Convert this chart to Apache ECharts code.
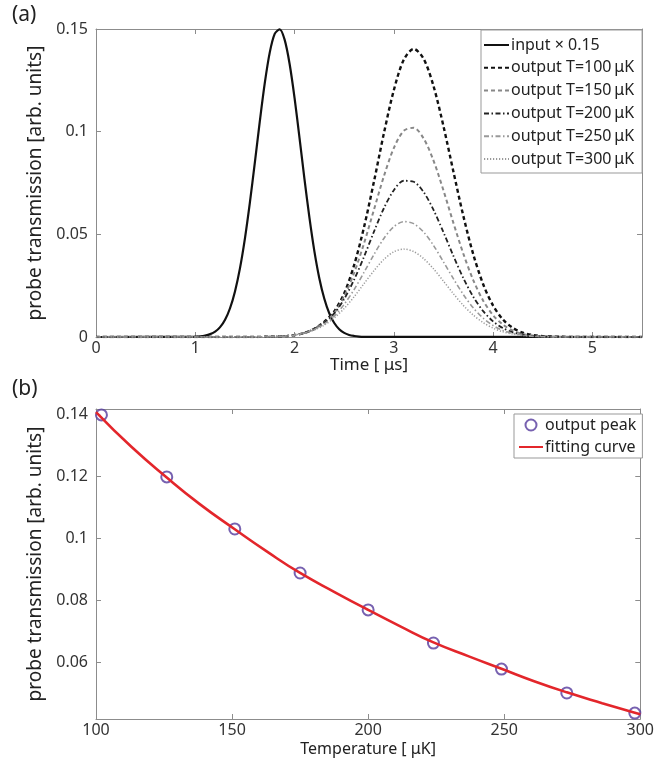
<!DOCTYPE html>
<html>
<head>
<meta charset="utf-8">
<script src="https://cdn.jsdelivr.net/npm/echarts@6/dist/echarts.min.js"></script>
<style>
  html, body { margin: 0; padding: 0; background: #fff; }
  #chart { width: 657px; height: 763px; }
</style>
</head>
<body>
<div id="chart"></div>
<script>
// (a) input pulse
const inputTime = [0, 1.00, 1.05, 1.10, 1.15, 1.20, 1.25, 1.30, 1.35, 1.40, 1.45, 1.50, 1.55, 1.60, 1.65,
  1.70, 1.75, 1.80, 1.85, 1.90, 1.95, 2.00, 2.05, 2.10, 2.15, 2.20, 2.25, 2.30, 2.35, 2.40, 2.45, 2.50,
  2.55, 2.60, 2.65, 2.70, 5.5];
const inputVal = [0, 0.0001, 0.0003, 0.0007, 0.0014, 0.0026, 0.0048, 0.0084, 0.0140, 0.0222, 0.0334, 0.0479,
  0.0654, 0.0849, 0.1050, 0.1236, 0.1385, 0.1476, 0.1498, 0.1448, 0.1331, 0.1165, 0.0970, 0.0769, 0.0581,
  0.0417, 0.0285, 0.0186, 0.0115, 0.0068, 0.0038, 0.0020, 0.0010, 0.0005, 0.0002, 0.0001, 0];

// (a) output pulses, shared time grid
const outTime = [0, 1.6, 1.7, 1.8, 1.9, 2.0, 2.1, 2.2, 2.3, 2.4, 2.5, 2.6, 2.7, 2.8, 2.9, 3.0, 3.1, 3.2, 3.3,
  3.4, 3.5, 3.6, 3.7, 3.8, 3.9, 4.0, 4.1, 4.2, 4.3, 4.4, 4.5, 4.6, 4.7, 4.8, 5.5];
const out100 = [0, 0, 0.0001, 0.0002, 0.0004, 0.0009, 0.0020, 0.0040, 0.0075, 0.0125, 0.0212, 0.0350, 0.0535,
  0.0757, 0.0992, 0.1202, 0.1350, 0.1403, 0.1355, 0.1222, 0.1027, 0.0806, 0.0590, 0.0403, 0.0257, 0.0153,
  0.0085, 0.0044, 0.0021, 0.0010, 0.0004, 0.0002, 0.0001, 0, 0];
const out150 = [0, 0, 0.0001, 0.0002, 0.0004, 0.0009, 0.0020, 0.0040, 0.0070, 0.0117, 0.0198, 0.0312, 0.0456,
  0.0620, 0.0783, 0.0920, 0.1004, 0.1019, 0.0967, 0.0859, 0.0714, 0.0556, 0.0406, 0.0277, 0.0177, 0.0106,
  0.0060, 0.0031, 0.0015, 0.0007, 0.0003, 0.0001, 0, 0, 0];
const out200 = [0, 0, 0.0001, 0.0002, 0.0005, 0.0010, 0.0020, 0.0040, 0.0070, 0.0115, 0.0185, 0.0279, 0.0391,
  0.0513, 0.0627, 0.0715, 0.0761, 0.0756, 0.0706, 0.0619, 0.0510, 0.0395, 0.0287, 0.0196, 0.0126, 0.0076,
  0.0043, 0.0023, 0.0011, 0.0005, 0.0002, 0.0001, 0, 0, 0];
const out250 = [0, 0, 0.0001, 0.0002, 0.0004, 0.0009, 0.0019, 0.0037, 0.0064, 0.0102, 0.0159, 0.0231, 0.0315,
  0.0402, 0.0480, 0.0537, 0.0562, 0.0552, 0.0511, 0.0446, 0.0366, 0.0284, 0.0207, 0.0142, 0.0092, 0.0056,
  0.0032, 0.0018, 0.0009, 0.0004, 0.0002, 0.0001, 0, 0, 0];
const out300 = [0, 0, 0.0001, 0.0002, 0.0005, 0.0010, 0.0019, 0.0034, 0.0058, 0.0093, 0.0139, 0.0196, 0.0260,
  0.0323, 0.0378, 0.0415, 0.0428, 0.0416, 0.0382, 0.0332, 0.0272, 0.0211, 0.0154, 0.0107, 0.0070, 0.0043,
  0.0025, 0.0014, 0.0007, 0.0003, 0.0001, 0, 0, 0, 0];
const timeTicks = [0, 1, 2, 3, 4, 5];

// (b) peak vs temperature
const peakTemp = [102, 126, 151, 175, 200, 224, 249, 273, 298];
const peakVal = [0.1397, 0.1197, 0.1029, 0.0887, 0.0768, 0.0661, 0.0577, 0.0500, 0.0435];
const fitTemp = [100, 113, 126, 138, 151, 163, 175, 188, 200, 212, 224, 237, 249, 261, 273, 286, 298, 300];
const fitVal = [0.1406, 0.1294, 0.1195, 0.1110, 0.1028, 0.0955, 0.0887, 0.0824, 0.0768, 0.0714, 0.0663,
  0.0618, 0.0578, 0.0538, 0.0502, 0.0467, 0.0436, 0.0431];
const peakTicks = [0.06, 0.08, 0.1, 0.12, 0.14];

const FONT = "Noto Sans";
const pair = (xs, ys) => xs.map((x, i) => [x, ys[i]]);

const lineCol = "#8c8c8c";
const axisLine = { show: true, onZero: false, lineStyle: { color: lineCol, width: 1 } };
const tick = { inside: true, length: 5, lineStyle: { color: lineCol } };
const label = { fontFamily: FONT, fontSize: 16, color: "#333" };
const noSymbol = { color: "transparent", borderWidth: 0, opacity: 0 };

const chart = echarts.init(document.getElementById("chart"));

const outName = (t) => "output T=" + t + "\u2009\u03bcK";
const inName = "input \u00d7 0.15";

const option = {
  animation: false,
  backgroundColor: "#fff",
  title: [
    { text: "(a)", left: 7, top: 0, textStyle: { fontFamily: FONT, fontSize: 21, fontWeight: "normal", color: "#222" } },
    { text: "(b)", left: 7, top: 374, textStyle: { fontFamily: FONT, fontSize: 21, fontWeight: "normal", color: "#222" } },
  ],
  grid: [
    { left: 96, top: 29, width: 546, height: 308 },
    { left: 96, top: 409, width: 545, height: 310 },
  ],
  legend: [
    {
      orient: "vertical",
      left: 481,
      top: 30,
      itemWidth: 25,
      itemHeight: 14,
      itemGap: 6.8,
      padding: [7, 8, 6, 2],
      borderColor: "#999",
      borderWidth: 1,
      backgroundColor: "#fff",
      itemStyle: noSymbol,
      textStyle: { fontFamily: FONT, fontSize: 16, color: "#222", lineHeight: 16, padding: [0, 0, 0, -3] },
      data: [inName, outName(100), outName(150), outName(200), outName(250), outName(300)],
    },
    {
      orient: "vertical",
      left: 514,
      top: 414,
      itemWidth: 24,
      itemHeight: 11,
      itemGap: 6,
      padding: [3, 6, 3, 4],
      borderColor: "#999",
      borderWidth: 1,
      backgroundColor: "#fff",
      textStyle: { fontFamily: FONT, fontSize: 16, color: "#222", lineHeight: 16, padding: [0, 0, 0, -3] },
      data: ["output peak", { name: "fitting curve", itemStyle: noSymbol }],
    },
  ],
  xAxis: [
    {
      type: "value", gridIndex: 0, min: 0, max: 5.5, position: "bottom",
      name: "Time [ \u03bcs]", nameLocation: "middle", nameGap: 15,
      nameTextStyle: { fontFamily: FONT, fontSize: 17, color: "#222" },
      axisLine, axisTick: { ...tick, customValues: timeTicks },
      axisLabel: { ...label, margin: 3, customValues: timeTicks },
      splitLine: { show: false },
    },
    {
      type: "value", gridIndex: 0, min: 0, max: 5.5, position: "top",
      axisLine, axisTick: { ...tick, customValues: timeTicks },
      axisLabel: { show: false }, splitLine: { show: false },
    },
    {
      type: "value", gridIndex: 1, min: 100, max: 300, interval: 50, position: "bottom",
      name: "Temperature [ \u03bcK]", nameLocation: "middle", nameGap: 22,
      nameTextStyle: { fontFamily: FONT, fontSize: 16, color: "#222" },
      axisLine, axisTick: tick,
      axisLabel: { ...label, margin: 3 },
      splitLine: { show: false },
    },
    {
      type: "value", gridIndex: 1, min: 100, max: 300, interval: 50, position: "top",
      axisLine, axisTick: tick, axisLabel: { show: false }, splitLine: { show: false },
    },
  ],
  yAxis: [
    {
      type: "value", gridIndex: 0, min: 0, max: 0.15, interval: 0.05, position: "left",
      name: "probe transmission [arb. units]", nameLocation: "middle", nameGap: 44,
      nameTextStyle: { fontFamily: FONT, fontSize: 19, color: "#222" },
      axisLine, axisTick: tick,
      axisLabel: { ...label, margin: 8 },
      splitLine: { show: false },
    },
    {
      type: "value", gridIndex: 0, min: 0, max: 0.15, interval: 0.05, position: "right",
      axisLine, axisTick: tick, axisLabel: { show: false }, splitLine: { show: false },
    },
    {
      type: "value", gridIndex: 1, min: 0.0416, max: 0.1416, position: "left",
      name: "probe transmission [arb. units]", nameLocation: "middle", nameGap: 44,
      nameTextStyle: { fontFamily: FONT, fontSize: 19, color: "#222" },
      axisLine, axisTick: { ...tick, customValues: peakTicks },
      axisLabel: { ...label, margin: 8, customValues: peakTicks },
      splitLine: { show: false },
    },
    {
      type: "value", gridIndex: 1, min: 0.0416, max: 0.1416, position: "right",
      axisLine, axisTick: { ...tick, customValues: peakTicks },
      axisLabel: { show: false }, splitLine: { show: false },
    },
  ],
  series: [
    {
      name: inName, type: "line", xAxisIndex: 0, yAxisIndex: 0,
      symbol: "none", smooth: 0.3,
      lineStyle: { color: "#111", width: 2.2, type: "solid" },
      itemStyle: { color: "#111" },
      data: pair(inputTime, inputVal),
    },
    {
      name: outName(100), type: "line", xAxisIndex: 0, yAxisIndex: 0,
      symbol: "none", smooth: 0.3,
      lineStyle: { color: "#111", width: 2.4, type: [4, 3] },
      itemStyle: { color: "#111" },
      data: pair(outTime, out100),
    },
    {
      name: outName(150), type: "line", xAxisIndex: 0, yAxisIndex: 0,
      symbol: "none", smooth: 0.3,
      lineStyle: { color: "#888", width: 2, type: [4, 3] },
      itemStyle: { color: "#888" },
      data: pair(outTime, out150),
    },
    {
      name: outName(200), type: "line", xAxisIndex: 0, yAxisIndex: 0,
      symbol: "none", smooth: 0.3,
      lineStyle: { color: "#222", width: 1.8, type: [5, 2.5, 1.5, 2.5] },
      itemStyle: { color: "#222" },
      data: pair(outTime, out200),
    },
    {
      name: outName(250), type: "line", xAxisIndex: 0, yAxisIndex: 0,
      symbol: "none", smooth: 0.3,
      lineStyle: { color: "#999", width: 1.6, type: [5, 2.5, 1.5, 2.5] },
      itemStyle: { color: "#999" },
      data: pair(outTime, out250),
    },
    {
      name: outName(300), type: "line", xAxisIndex: 0, yAxisIndex: 0,
      symbol: "none", smooth: 0.3,
      lineStyle: { color: "#999", width: 1.5, type: [1.2, 1.8] },
      itemStyle: { color: "#999" },
      data: pair(outTime, out300),
    },
    {
      name: "output peak", type: "scatter", xAxisIndex: 2, yAxisIndex: 2,
      symbol: "emptyCircle", symbolSize: 11,
      itemStyle: { color: "#553a9c", borderColor: "#553a9c", borderWidth: 1.6 },
      z: 2,
      data: pair(peakTemp, peakVal),
    },
    {
      name: "fitting curve", type: "line", xAxisIndex: 2, yAxisIndex: 2,
      symbol: "none", smooth: true, z: 3,
      lineStyle: { color: "#e3262b", width: 2.6 },
      itemStyle: { color: "#e3262b" },
      data: pair(fitTemp, fitVal),
    },
  ],
};

chart.setOption(option);
</script>
</body>
</html>
